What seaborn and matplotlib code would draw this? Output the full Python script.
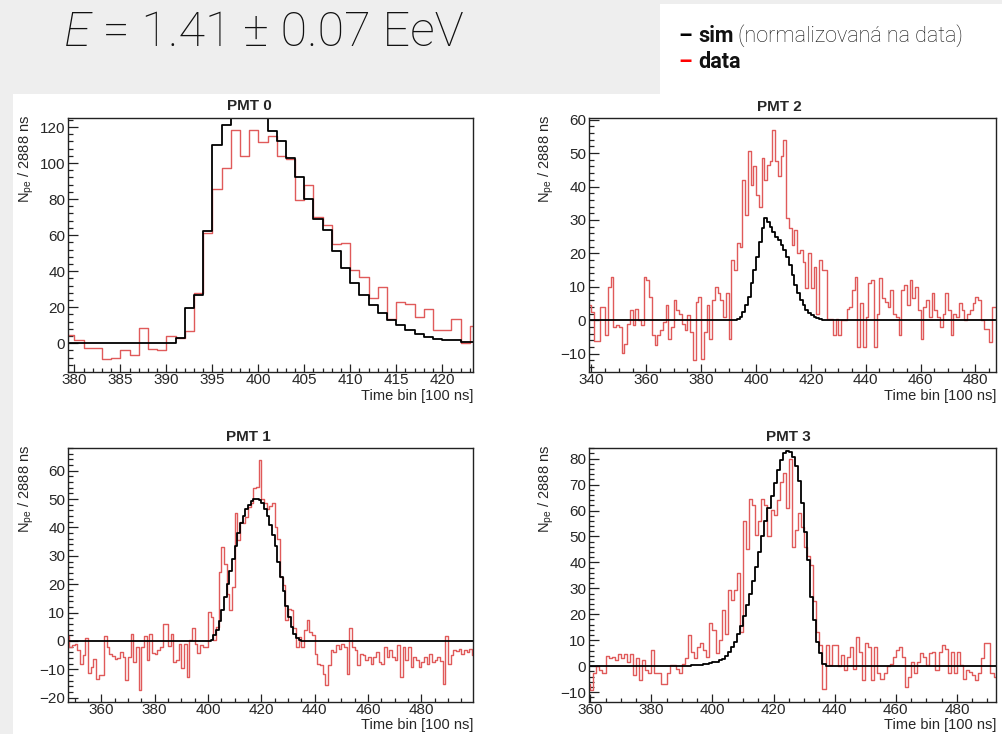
import numpy as np
import matplotlib
matplotlib.use('Agg')
import matplotlib.pyplot as plt
from matplotlib.patches import Rectangle
from matplotlib.ticker import MultipleLocator
import seaborn as sns

# first bin of each histogram [100 ns], bins are 1 wide
pmt0_start = 379
pmt0_sim = [0, 0, 0, 0, 0, 0, 0, 0, 0, 0, 0, 0,
            3, 19.5, 27, 62, 110, 121, 132, 140, 142, 138, 118, 112, 103, 92, 80,
            69, 63, 51, 42, 33.5, 27, 21, 16.5, 13, 10, 7.5, 5, 3.5, 2.5, 2, 1.5,
            0.8, 0.5]
pmt0_data = [4.6, 1.5, -2.5, -2.8, -9, -8, -3.7, -6.8, 8.7, -3.3, -3.7, 4.2,
             3, 7, 28, 61, 85.5, 97.5, 118.5, 104, 118.5, 111.7, 115, 104, 102.5,
             79.4, 88, 70, 65.5, 55, 55.4, 40.6, 37, 25, 31, 13.5, 22.7, 21.8,
             14.8, 19, 7.4, 7.4, 13.3, 0, 9.8]

pmt2_start = 339
pmt2_sim = [0] * 54 + [
    0.3, 1, 2.5, 4.5, 7, 11, 15, 19, 23.5, 27.5, 30.5, 29.5, 28, 26.5, 25, 24,
    22.5, 21, 19, 16.5, 13.5, 10.5, 8, 6, 4.5, 3.2, 2.2, 1.5, 1, 0.6, 0.35,
    0.2, 0.1] + [0] * 62
pmt2_data = [
    4.5, 2.5, -6.3, -6.3, 4, 4, -4.5, 10, 13, -2, -1.5, -2, -9.8, -7, -1, 3,
    -1.5, 3.5, 0, -1.5,
    13, 12, 7, -4.5, -7.5, -4.5, -3, -0.5, 4.5, -5.5, -2, 6, 3, 2, -1, -3, 1.5,
    -3.5, -12, 5.5, 7, -11.5, -3.5, 4.5, -5.5, 6, 10, 8, 6, 1, 8, -5.5,
    18, 15, 23, 22, 42, 31.5, 50.5, 40.5, 46, 37.5, 34, 48.5, 42, 46.5, 47.5,
    57, 47.5, 43, 49, 54, 30.5, 27.5, 22.5, 27, 20, 21, 17.5, 9.5, 20, 9.5, 16,
    2, 18, 15, 15,
    0.5, 0.5, -4.5, 0.5, -4.5, 0, 0, 3.5, 4, 9, 13, -8, 5, -8, 1, 11, 12, -8, 2,
    12.5, 6.5, 5.5, 4, 9, 2, 1, -4.5, 9, 10.5, 4.5, 12, 6.5, 10, 3, -5.5, 4, 6,
    1, 8, 3, 1, -2, 2, 8, 3, -4.5, 2, 1, 5, 3, 0, 2, 3, 5, 7, 6, 0, -2.5, -2.5,
    -6.5, 4, 4]

pmt1_start = 347
pmt1_sim = [0] * 54 + [
    0.5, 2, 4, 7, 11, 15.5, 20, 24.5, 29, 33.5, 38, 41.5, 44, 46.5, 48, 49.5,
    50, 50, 49.8, 48.5, 46.5, 44, 41, 37.5, 33.5, 28, 22.5, 17.5, 12.5, 8.5, 5,
    2.5, 1, 0.3] + [0] * 65
pmt1_data = [
    1.6, -2, -1.5, -1, -3.3, -8, -5, 1.2, -11.3, -9.2, -6.5, -13.3, -12, -12,
    1.6, -2.1, -4.5, -5.4, -6.2, -5.9, -3.9, -5.6, -13.6, -5.6, 2.6, -7.4, -2.1,
    -17.4, -2.1, 1.6, -6.8, 2.6, -4.2, -4.5, -3.3, -2.1, 6.1, 6.1, -1.8, 2.6,
    -7.4, -6.8, -0.9, -9.4, -0.9, -12.7, 0.2, 4.4, -0.9, -4.2, -1.5, -2.1, -2.1,
    10.2, 8.5, 0.5, 5, 24.4, 33.2, 27.3, 16.7, 10.8, 19, 45, 35.5, 42, 41.5,
    43.8, 47.3, 48.5, 53.8, 54.4, 63.8, 50.2, 48.5, 46.4,
    47.5, 48.7, 40.2, 36.1, 22.6, 19.6, 7.3, 11.4, 10.8, 4.4, -2.1, 1.4, -2.1,
    3.8, 7.5, 3.2, 2, -4.5, -8.2, -8.6, -11.5, -15.6, -8.6, -3.3, -3.9, -1.5,
    -2.7, -0.9, -2.1, -11.5, 4.4, -2.1, -3.3, -8.6, -4.5, -5, -6.8, -5.6, -8.2,
    -5.6, -3.9, -7.4, -8.2, -2.1, -5.6, -3.3, -5.6, -6.8, -1.5, -12.7, -2.1,
    -6.8, -2.1, -9.2, -5.6, -6.8, -9.2, -7.4, -5.6, -8.2, -4.5, -7.4, -6.8,
    -5.6, -7, -15, 1.6, -8.2, -5, -3.3, -3.5, -3, -4.5, -3.3, -3.9, -3, -5]

pmt3_start = 359
pmt3_sim = [0] * 26 + [
    0.02, 0.03, 0.05, 0.08, 0.1, 0.15, 0.2, 0.25, 0.3, 0.4, 0.5, 0.6, 0.8, 1.0,
    1.2,
    1.5, 1.8, 2.2, 2.8, 4, 5.5, 7.5, 9.5, 12.5, 15.5, 19.5, 23.5, 28, 33, 38.4,
    44, 50, 55.8, 61, 65.5, 70.6, 75.8, 79.6, 82.2, 83.1, 82.6, 80.5, 77, 71.3,
    62.9, 51.9, 41, 26.8, 17.8, 9.4, 4.9, 0.8, 0.2] + [0] * 55
pmt3_data = [
    -6.7, -9.3, -2.8, 0, -1.5, -2.8, 3.9, 3, 3.6, 2.3, 4.6, 3, 4.6, 1.7, 4.6,
    -3.5, 3, -5.4, 2.3, -1.5, -2.8, 6.2, -2.8, -2.8, -6.7, -6.7, -2.8, 0.4, 0.4,
    -0.9, -2.8, 1,
    3, 12, 5.5, 3, 7.5, 8.8, 6.2, 3.6, 16.5, 13.9, 5.2, 10, 21.6, 12.6, 29.4,
    25.5, 29.4, 35.8, 13.3,
    55.8, 45, 64.5, 62, 50.6, 56, 64.5, 62, 50, 60.3, 58.4, 64, 71, 74.5, 61,
    80, 46.1, 52.6, 59, 53.5, 46, 42.5, 39, 25, 13, 8, -8.6,
    8.1, 0.4, 8.1, 8.1, 0, 4.3, -1.5, 3.6, 7.5, -0.9, 11.3, 5.5, -5.4, 8.8, 7.5,
    -5.4, 7.5, -2.8, -4.8, -2.8, 0, 1, 3.6, 6.2, 7.5, 3.6, -8, -4.1, 1.7, -2.8,
    1.7, 4.9, 3.6, 0.4, 4.9, 5.5, -1.5, 5.5, 8.1, 6.8, -2.8, 5.5, -2.8, 5.5,
    0.4, -4.8, -1.5, -2.2, -3.5, -5.4, -2.8, 3, 8.8, 8.8, -2.8, -4]

titles = ['PMT 0', 'PMT 2', 'PMT 1', 'PMT 3']
energy_text = ' = 1.41 ± 0.07 EeV'
xlabel = 'Time bin [100 ns]'
ylabel = r'$\mathregular{N_{pe}}$ / 2888 ns'

W, H = 1003, 734
RED = '#e05a5a'

sns.set_style('ticks')
plt.rcParams['font.family'] = ['Liberation Sans', 'DejaVu Sans']
plt.rcParams['mathtext.fontset'] = 'custom'
plt.rcParams['mathtext.rm'] = 'Liberation Sans'

fig = plt.figure(figsize=(W / 100, H / 100), dpi=100, facecolor='#eeeeee')


def fx(px):
    return px / W


def fy(py):
    return 1 - py / H


# white backgrounds (slide look)
fig.add_artist(Rectangle((fx(12.7), 0), 1, fy(94), transform=fig.transFigure,
                         facecolor='white', edgecolor='none', zorder=-5))
fig.add_artist(Rectangle((fx(660), fy(94)), 1, fy(4) - fy(94),
                         transform=fig.transFigure, facecolor='white',
                         edgecolor='none', zorder=-5))


def step_hist(ax, start, values, color, lw):
    # histogram outline, last bin closed by repeating its value
    edges = start + np.arange(len(values) + 1)
    heights = list(values) + [values[-1]]
    sns.lineplot(x=edges, y=heights, drawstyle='steps-post', estimator=None,
                 sort=False, color=color, linewidth=lw, ax=ax)


def draw_panel(box, start, sim, data, xlim, ylim, xsteps, ysteps, title,
               title_xy, ylab_xy, xlab_y):
    x0, y0, x1, y1 = box
    ax = fig.add_axes([fx(x0), fy(y1), fx(x1) - fx(x0), fy(y0) - fy(y1)])
    step_hist(ax, start, data, RED, 1.0)
    step_hist(ax, start, sim, 'black', 1.3)
    ax.set_xlim(xlim)
    ax.set_ylim(ylim)
    ax.set_xlabel('')
    ax.set_ylabel('')
    ax.xaxis.set_major_locator(MultipleLocator(xsteps[0]))
    ax.xaxis.set_minor_locator(MultipleLocator(xsteps[1]))
    ax.yaxis.set_major_locator(MultipleLocator(ysteps[0]))
    ax.yaxis.set_minor_locator(MultipleLocator(ysteps[1]))
    ax.tick_params(which='both', direction='in', top=False, right=False,
                   labelsize=11, color='#222222', width=0.9)
    ax.tick_params(axis='x', which='major', length=6, pad=1)
    ax.tick_params(axis='x', which='minor', length=3)
    ax.tick_params(axis='y', which='major', length=7, pad=2)
    ax.tick_params(axis='y', which='minor', length=3.5)
    for s in ax.spines.values():
        s.set_visible(True)
        s.set_linewidth(1.0)
        s.set_color('#222222')
    fig.text(fx(title_xy[0]), fy(title_xy[1]), title, ha='center',
             va='center', fontsize=11, fontweight='bold')
    fig.text(fx(ylab_xy[0]), fy(ylab_xy[1]), ylabel, rotation=90,
             ha='center', va='top', fontsize=10.5)
    fig.text(fx(x1), fy(xlab_y), xlabel, ha='right', va='center',
             fontsize=10.5)
    return ax


draw_panel((68, 118, 473, 372), pmt0_start, pmt0_sim, pmt0_data,
           (379.3, 423.35), (-16, 125), (5, 1), (20, 4),
           titles[0], (249, 106), (26, 115), 396)
draw_panel((589, 118, 996, 372), pmt2_start, pmt2_sim, pmt2_data,
           (339.1, 487.5), (-15.5, 60.5), (20, 5), (10, 2),
           titles[1], (779, 107), (546, 115), 396)
draw_panel((68, 448, 473, 702), pmt1_start, pmt1_sim, pmt1_data,
           (347.5, 499.4), (-21.5, 68), (20, 5), (10, 2),
           titles[2], (248, 437), (26, 445), 725)
draw_panel((589, 448, 996, 702), pmt3_start, pmt3_sim, pmt3_data,
           (359.6, 492.8), (-13.8, 84.1), (20, 5), (10, 2),
           titles[3], (788, 437), (546, 445), 725)

# header: energy and legend
host = fig.axes[0]
e_txt = fig.text(fx(64), fy(46), 'E', fontsize=35, family='Roboto',
                 fontweight='light', fontstyle='italic', color='#111111',
                 va='baseline')
host.annotate(energy_text, xy=(1, 0), xycoords=e_txt, fontsize=35,
              family='Roboto', fontweight='light', color='#111111',
              va='bottom', annotation_clip=False)

leg_rows = [('–', 'black', 'sim', ' (normalizovaná na data)', 36),
            ('–', '#ff0000', 'data', '', 62)]
for dash, dcol, name, note, ypx in leg_rows:
    d = fig.text(fx(679), fy(ypx), dash + ' ', fontsize=15.5, family='Roboto',
                 fontweight='bold', color=dcol, va='center')
    n = host.annotate(name, xy=(1, 0), xycoords=d, fontsize=15.5,
                      family='Roboto', fontweight='bold', color='#111111',
                      va='bottom', annotation_clip=False)
    if note:
        host.annotate(note, xy=(1, 0), xycoords=n, fontsize=15.5,
                      family='Roboto', fontweight='light', color='#111111',
                      va='bottom', annotation_clip=False)

fig.savefig('out.png', dpi=100, facecolor=fig.get_facecolor())
